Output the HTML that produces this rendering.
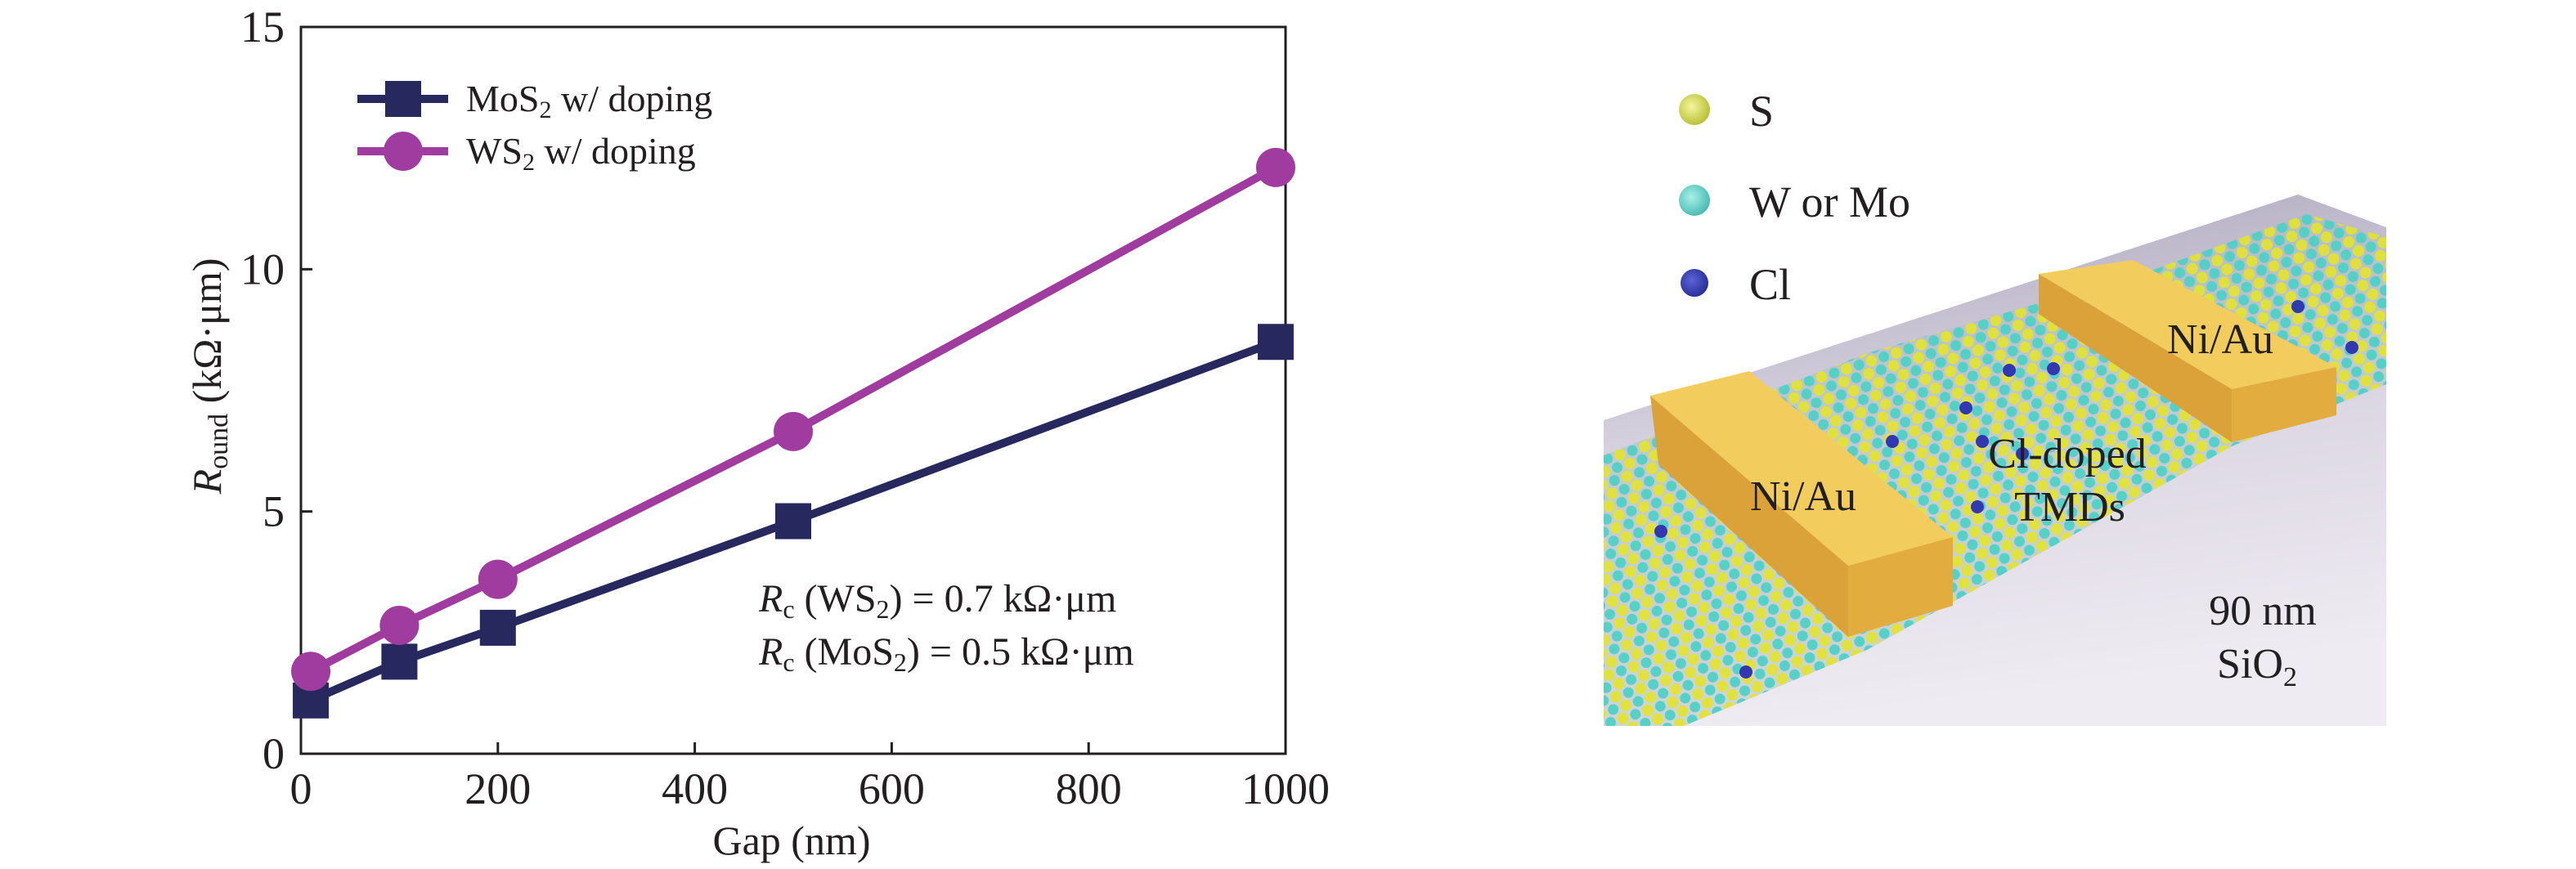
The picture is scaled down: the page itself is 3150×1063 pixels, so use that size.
<!DOCTYPE html>
<html><head><meta charset="utf-8"><style>
html,body{margin:0;padding:0;background:#fff;}
svg{display:block;}
text{font-family:"Liberation Serif",serif;fill:#231f20;}
</style></head><body>
<svg id="fig" width="3150" height="1063" viewBox="0 0 3150 1063" xmlns="http://www.w3.org/2000/svg">
<defs>
<pattern id="latt" width="32" height="28" patternUnits="userSpaceOnUse" patternTransform="rotate(-18)">
<rect width="32" height="28" fill="#a9bfc0" opacity="0.5"/>
<circle cx="8" cy="7" r="6.5" fill="#4fd0c6"/>
<circle cx="24" cy="7" r="7" fill="#e0e236"/>
<circle cx="16" cy="21" r="7" fill="#e0e236"/>
<circle cx="0" cy="21" r="6.5" fill="#4fd0c6"/>
<circle cx="32" cy="21" r="6.5" fill="#4fd0c6"/>
</pattern>
<linearGradient id="sub" x1="0" y1="0" x2="0.2" y2="1">
<stop offset="0" stop-color="#aaa4ba"/>
<stop offset="0.5" stop-color="#d9d4e1"/>
<stop offset="1" stop-color="#efebf2"/>
</linearGradient>
<radialGradient id="sball" cx="0.4" cy="0.4" r="0.6"><stop offset="0" stop-color="#f6f59b"/><stop offset="1" stop-color="#b9c23a"/></radialGradient>
<radialGradient id="wball" cx="0.4" cy="0.4" r="0.6"><stop offset="0" stop-color="#a8f0e8"/><stop offset="1" stop-color="#4cbdb5"/></radialGradient>
<radialGradient id="clball" cx="0.4" cy="0.4" r="0.6"><stop offset="0" stop-color="#5a63d8"/><stop offset="1" stop-color="#2a2f9a"/></radialGradient>
</defs>
<g id="chart"></g>

<g>
<polygon points="1961,514 2810,238 2918,278 2918,888 1961,888" fill="url(#sub)"/>
<polygon points="1961,557 2283,432 2633,330 2820,262 2918,290 2918,470 2729,546 2283,795 2059,888 1961,888" fill="url(#latt)" opacity="0.95"/>
<g fill="#3238b0">
<circle cx="2031" cy="650" r="8"/><circle cx="2135" cy="822" r="8"/><circle cx="2314" cy="540" r="8"/><circle cx="2404" cy="499" r="8"/><circle cx="2473" cy="555" r="8"/><circle cx="2424" cy="540" r="8"/><circle cx="2457" cy="453" r="8"/><circle cx="2511" cy="451" r="8"/><circle cx="2557" cy="378" r="8"/><circle cx="2601" cy="441" r="8"/><circle cx="2683" cy="372" r="8"/><circle cx="2876" cy="425" r="8"/><circle cx="2810" cy="375" r="8"/><circle cx="2418" cy="620" r="8"/>
</g>
<g>
<polygon points="2018,484 2260,692 2260,779 2028,568" fill="#dca23a"/>
<polygon points="2260,692 2388,657 2388,741 2260,779" fill="#e3ac3f"/>
<polygon points="2018,484 2139,454 2388,657 2260,692" fill="#f2cc5c"/>
</g>
<g>
<polygon points="2493,335 2729,476 2729,541 2493,384" fill="#dca23a"/>
<polygon points="2729,476 2857,449 2857,508 2729,541" fill="#e3ac3f"/>
<polygon points="2493,335 2608,318 2857,449 2729,476" fill="#f2cc5c"/>
</g>
<text x="2140" y="624" font-size="52">Ni/Au</text>
<text x="2650" y="432" font-size="52">Ni/Au</text>
<text x="2528" y="572" font-size="52" text-anchor="middle">Cl-doped</text>
<text x="2531" y="637" font-size="52" text-anchor="middle">TMDs</text>
<text x="2767" y="764" font-size="52" text-anchor="middle">90 nm</text>
<text x="2760" y="829" font-size="52" text-anchor="middle">SiO<tspan font-size="34" dy="10">2</tspan></text>
<g>
<circle cx="2072" cy="134" r="19" fill="url(#sball)"/>
<text x="2139" y="154" font-size="54">S</text>
<circle cx="2072" cy="245" r="19" fill="url(#wball)"/>
<text x="2139" y="265" font-size="54">W or Mo</text>
<circle cx="2072" cy="346" r="17" fill="url(#clball)"/>
<text x="2139" y="366" font-size="54">Cl</text>
</g>
</g>
</svg>
<script>
const gaps=[10,100,200,500,990];
const mos2=[1.1,1.9,2.6,4.8,8.5];
const ws2=[1.7,2.65,3.6,6.65,12.1];
const xTicks=[0,200,400,600,800,1000];
const yTicks=[0,5,10,15];
const NS="http://www.w3.org/2000/svg";
const L=368,R=1572,T=33,B=922;
const sx=v=>L+(v/1000)*(R-L);
const sy=v=>B-(v/15)*(B-T);
const g=document.getElementById('chart');
function mk(tag,attrs,parent){const e=document.createElementNS(NS,tag);for(const k in attrs)e.setAttribute(k,attrs[k]);(parent||g).appendChild(e);return e;}
const frame=mk('rect',{x:L,y:T,width:R-L,height:B-T,fill:'none',stroke:'#231f20','stroke-width':3});


xTicks.forEach(t=>{
 const l=mk('line',{x1:sx(t),x2:sx(t),y1:B,y2:B-14,stroke:'#231f20','stroke-width':3});
 
 
 const tx=mk('text',{x:sx(t),y:983,'font-size':54,'text-anchor':'middle'});
 tx.textContent=t;
 
 
});
yTicks.forEach(t=>{
 const l=mk('line',{x1:L,x2:L+14,y1:sy(t),y2:sy(t),stroke:'#231f20','stroke-width':3});
 
 
 const tx=mk('text',{x:348,y:sy(t)+18,'font-size':54,'text-anchor':'end'});
 tx.textContent=t;
 
 
});
const xt=mk('text',{x:968,y:1045,'font-size':50,'text-anchor':'middle'});
xt.textContent='Gap (nm)';


const yt=mk('text',{transform:'translate(270,460) rotate(-90)','font-size':50,'text-anchor':'middle'});
yt.innerHTML='<tspan font-style="italic">R</tspan><tspan font-size="34" dy="8">ound</tspan><tspan dy="-8"> (kΩ·μm)</tspan>';


function series(vals,color,shape,name){
 const pts=gaps.map((x,i)=>sx(x)+','+sy(vals[i])).join(' ');
 const pl=mk('polyline',{points:pts,fill:'none',stroke:color,'stroke-width':10});
 
 
 gaps.forEach((x,i)=>{
  let m;
  if(shape==='sq') m=mk('rect',{x:sx(x)-22,y:sy(vals[i])-22,width:44,height:44,fill:color});
  else m=mk('circle',{cx:sx(x),cy:sy(vals[i]),r:24,fill:color});
  
  
 });
}
series(mos2,'#27295e','sq','mos2');
series(ws2,'#a03c9f','ci','ws2');
const lg=mk('g',{});


mk('line',{x1:437,x2:548,y1:121,y2:121,stroke:'#27295e','stroke-width':10},lg);
mk('rect',{x:471,y:99,width:44,height:44,fill:'#27295e'},lg);
const t1=mk('text',{x:570,y:136,'font-size':46},lg);
t1.innerHTML='MoS<tspan font-size="30" dy="8">2</tspan><tspan dy="-8"> w/ doping</tspan>';


mk('line',{x1:437,x2:548,y1:185,y2:185,stroke:'#a03c9f','stroke-width':10},lg);
mk('circle',{cx:493,cy:185,r:24,fill:'#a03c9f'},lg);
const t2=mk('text',{x:570,y:200,'font-size':46},lg);
t2.innerHTML='WS<tspan font-size="30" dy="8">2</tspan><tspan dy="-8"> w/ doping</tspan>';


const a1=mk('text',{x:928,y:748,'font-size':48});
a1.innerHTML='<tspan font-style="italic">R</tspan><tspan font-size="32" dy="8">c</tspan><tspan dy="-8"> (WS</tspan><tspan font-size="32" dy="8">2</tspan><tspan dy="-8">) = 0.7 kΩ·μm</tspan>';


const a2=mk('text',{x:928,y:813,'font-size':48});
a2.innerHTML='<tspan font-style="italic">R</tspan><tspan font-size="32" dy="8">c</tspan><tspan dy="-8"> (MoS</tspan><tspan font-size="32" dy="8">2</tspan><tspan dy="-8">) = 0.5 kΩ·μm</tspan>';


</script>
</body></html>
